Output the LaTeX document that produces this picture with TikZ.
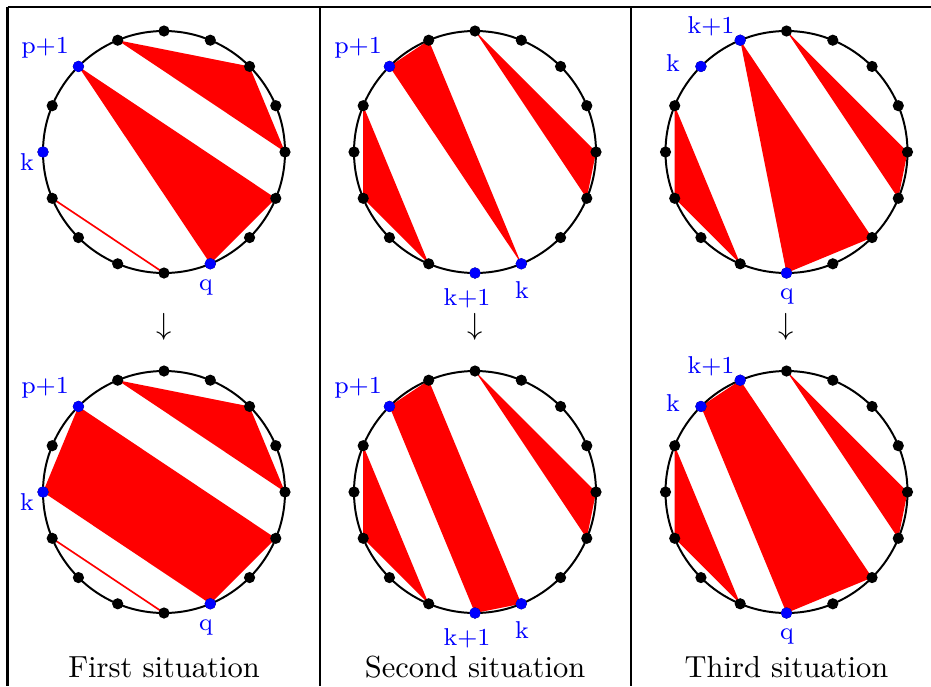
\documentclass[tikz,border=0pt]{standalone}
\tikzset{
  ring/.style={line width=0.65pt},
  rule/.style={line width=0.85pt},
  lab/.style={text=blue,font=\footnotesize,anchor=base,inner sep=0pt},
  captext/.style={font=\normalsize,anchor=base,inner sep=0pt},
  downarr/.style={inner sep=0pt},
  chordline/.style={red,line width=0.55pt},
}
\newcommand\mkpts[3]{\foreach \j in {0,...,15}{\coordinate (#1\j) at ({#2+121*cos(90+22.5*\j)},{#3-121*sin(90+22.5*\j)});}}
\newcommand\drawring[3]{\draw[ring] (#2,#3) circle[radius=121];
  \foreach \j in {0,...,15}{\fill (#1\j) circle[radius=5.6];}}
\newcommand\bdots[4]{\fill[blue] (#1#2) circle[radius=5.6]; \fill[blue] (#1#3) circle[radius=5.6]; \fill[blue] (#1#4) circle[radius=5.6];}
\begin{document}
\begin{tikzpicture}[x=0.328pt,y=-0.328pt]
\useasboundingbox (0,0) rectangle (931,686);
% table rules
\draw[rule] (7.5,7) -- (931,7);
\draw[rule] (7.5,7) -- (7.5,686);
\draw[rule] (320,7) -- (320,686);
\draw[rule] (631,7) -- (631,686);
% points
\mkpts{A}{164}{152}
\mkpts{B}{164}{492}
\mkpts{C}{475}{152}
\mkpts{D}{475}{492}
\mkpts{E}{786.5}{152}
\mkpts{F}{786.5}{492}
% fills
\fill[red] (A1) -- (A14) -- (A12) -- cycle;
\fill[red] (A2) -- (A11) -- (A9) -- cycle;
\draw[chordline] (A5) -- (A8);
\fill[red] (B1) -- (B14) -- (B12) -- cycle;
\fill[red] (B2) -- (B4) -- (B9) -- (B11) -- cycle;
\draw[chordline] (B5) -- (B8);
\fill[red] (C2) -- (C1) -- (C9) -- cycle;
\fill[red] (C0) -- (C12) -- (C11) -- cycle;
\fill[red] (C3) -- (C5) -- (C7) -- cycle;
\fill[red] (D2) -- (D1) -- (D9) -- (D8) -- cycle;
\fill[red] (D0) -- (D12) -- (D11) -- cycle;
\fill[red] (D3) -- (D5) -- (D7) -- cycle;
\fill[red] (E1) -- (E8) -- (E10) -- cycle;
\fill[red] (E0) -- (E12) -- (E11) -- cycle;
\fill[red] (E3) -- (E5) -- (E7) -- cycle;
\fill[red] (F2) -- (F1) -- (F10) -- (F8) -- cycle;
\fill[red] (F0) -- (F12) -- (F11) -- cycle;
\fill[red] (F3) -- (F5) -- (F7) -- cycle;
% rings and dots
\drawring{A}{164}{152}
\drawring{B}{164}{492}
\drawring{C}{475}{152}
\drawring{D}{475}{492}
\drawring{E}{786.5}{152}
\drawring{F}{786.5}{492}
\bdots{A}{2}{4}{9}
\bdots{B}{2}{4}{9}
\bdots{C}{2}{8}{9}
\bdots{D}{2}{8}{9}
\bdots{E}{1}{2}{8}
\bdots{F}{1}{2}{8}
% labels
\node[lab] (la1) at (45,53) {p+1};
\node[lab] (la2) at (27,170) {k};
\node[lab] (la3) at (206,290) {q};
\node[lab] (lb1) at (45,393) {p+1};
\node[lab] (lb2) at (27,510) {k};
\node[lab] (lb3) at (206,630) {q};
\node[lab] (lc1) at (358,53) {p+1};
\node[lab] (lc2) at (467,305) {k+1};
\node[lab] (lc3) at (522,298) {k};
\node[lab] (ld1) at (358,393) {p+1};
\node[lab] (ld2) at (467,645) {k+1};
\node[lab] (ld3) at (522,638) {k};
\node[lab] (le1) at (711,33) {k+1};
\node[lab] (le2) at (673,71) {k};
\node[lab] (le3) at (787,299) {q};
\node[lab] (lf1) at (711,373) {k+1};
\node[lab] (lf2) at (673,411) {k};
\node[lab] (lf3) at (787,639) {q};
% arrows
\node[downarr] (ar1) at (164,327) {$\downarrow$};
\node[downarr] (ar2) at (475,327) {$\downarrow$};
\node[downarr] (ar3) at (786.5,327) {$\downarrow$};
% captions
\node[captext] (cp1) at (164,677) {First situation};
\node[captext] (cp2) at (475,677) {Second situation};
\node[captext] (cp3) at (786.5,677) {Third situation};
\end{tikzpicture}
\end{document}
